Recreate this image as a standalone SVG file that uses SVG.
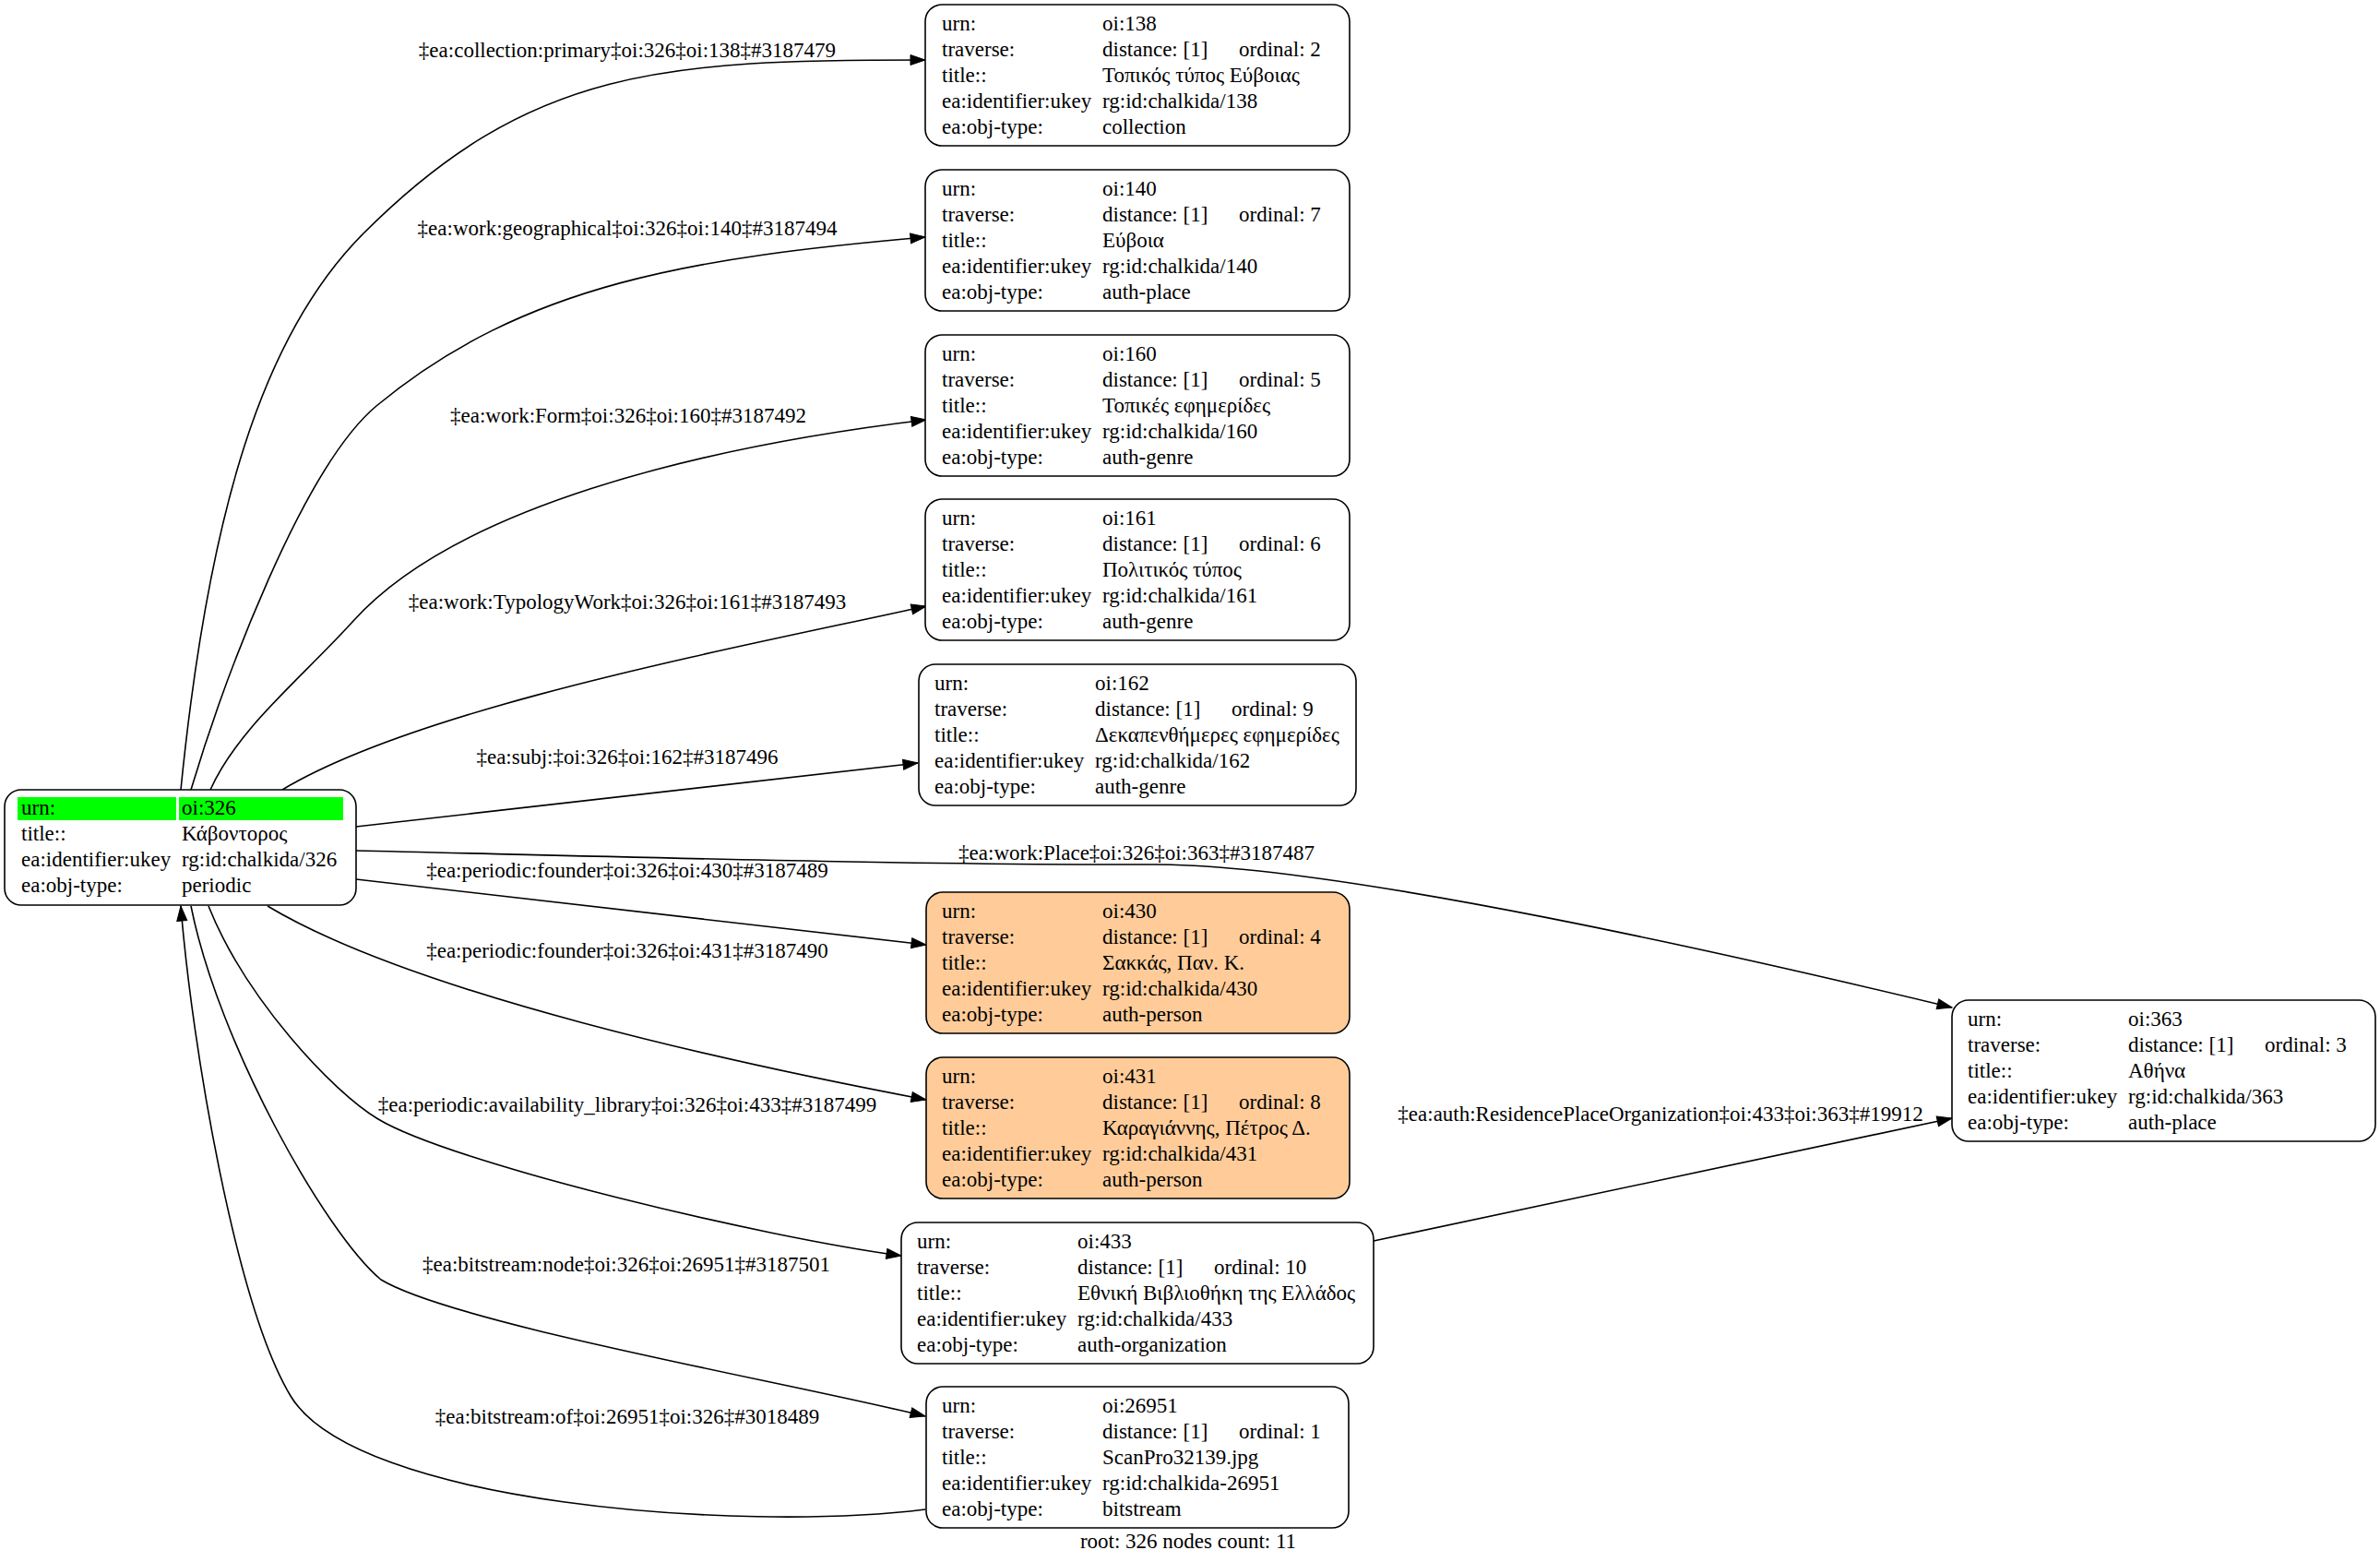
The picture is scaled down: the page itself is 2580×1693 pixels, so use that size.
<svg xmlns="http://www.w3.org/2000/svg" width="2580" height="1693" viewBox="0 0 2580 1693">
<style>
text { font-family: "Liberation Serif", "Times New Roman", "DejaVu Serif", serif; font-size: 23px; fill: #000; }
.lb { text-anchor: middle; }
.nd { fill: #fff; stroke: #000; stroke-width: 1.6; }
.pe { fill: #ffcc99; }
.e { fill: none; stroke: #000; stroke-width: 1.6; marker-end: url(#arr); }
.hl { fill: #00ff00; }
</style>
<defs>
<marker id="arr" markerUnits="userSpaceOnUse" markerWidth="20" markerHeight="14" refX="16" refY="6" orient="auto" overflow="visible">
<path d="M0,0.5 L16,6 L0,11.5 z" fill="#000" stroke="#000" stroke-width="1"/>
</marker>
</defs>
<rect width="2580" height="1693" fill="#fff"/>

<g id="edges">
<path class="e" d="M196,856 C226,556 284,363 394,253 C574,73 720,65 1003,65"/>
<path class="e" d="M207,856 C243,736 328,507 408,440 C568,307 753,279 1003,257"/>
<path class="e" d="M228,856 C258,789 328,734 383,673 C493,551 754,485 1004,455"/>
<path class="e" d="M306,856 C456,766 800,702 1004,657"/>
<path class="e" d="M386,896 L995,827"/>
<path class="e" d="M386,922 C650,928 1000,938 1250,937 C1450,936 1900,1040 2116,1092"/>
<path class="e" d="M386,953 L1004,1024"/>
<path class="e" d="M290,982 C450,1078 804,1154 1004,1192"/>
<path class="e" d="M226,982 C266,1082 360,1183 410,1213 C490,1261 827,1341 977,1361"/>
<path class="e" d="M1489,1345 L2116,1212"/>
<path class="e" d="M207,982 C237,1132 353,1337 413,1387 C493,1435 853,1498 1003,1535"/>
<path class="e" d="M1003,1636 C803,1661 385,1630 315,1513 C255,1413 208,1132 196,982"/>
<text class="lb" x="680" y="62">‡ea:collection:primary‡oi:326‡oi:138‡#3187479</text>
<text class="lb" x="680" y="255">‡ea:work:geographical‡oi:326‡oi:140‡#3187494</text>
<text class="lb" x="681" y="458">‡ea:work:Form‡oi:326‡oi:160‡#3187492</text>
<text class="lb" x="680" y="660">‡ea:work:TypologyWork‡oi:326‡oi:161‡#3187493</text>
<text class="lb" x="680" y="828">‡ea:subj:‡oi:326‡oi:162‡#3187496</text>
<text class="lb" x="1232" y="932">‡ea:work:Place‡oi:326‡oi:363‡#3187487</text>
<text class="lb" x="680" y="951">‡ea:periodic:founder‡oi:326‡oi:430‡#3187489</text>
<text class="lb" x="680" y="1038">‡ea:periodic:founder‡oi:326‡oi:431‡#3187490</text>
<text class="lb" x="680" y="1205">‡ea:periodic:availability_library‡oi:326‡oi:433‡#3187499</text>
<text class="lb" x="1800" y="1215">‡ea:auth:ResidencePlaceOrganization‡oi:433‡oi:363‡#19912</text>
<text class="lb" x="679" y="1378">‡ea:bitstream:node‡oi:326‡oi:26951‡#3187501</text>
<text class="lb" x="680" y="1543">‡ea:bitstream:of‡oi:26951‡oi:326‡#3018489</text>
</g>

<g id="n326">
<rect class="nd" x="5" y="856" width="381" height="125" rx="18"/>
<rect class="hl" x="19" y="864" width="172" height="25"/>
<rect class="hl" x="194" y="864" width="178" height="25"/>
<g transform="translate(0,2)">
<text x="23" y="881">urn:</text><text x="197" y="881">oi:326</text>
<text x="23" y="909">title::</text><text x="197" y="909">Κάβοντορος</text>
<text x="23" y="937">ea:identifier:ukey</text><text x="197" y="937">rg:id:chalkida/326</text>
<text x="23" y="965">ea:obj-type:</text><text x="197" y="965">periodic</text>
</g>
</g>

<g id="n138">
<rect class="nd" x="1003" y="5" width="460" height="153" rx="18"/>
<g transform="translate(0,2)">
<text x="1021" y="31">urn:</text><text x="1195" y="31">oi:138</text>
<text x="1021" y="59">traverse:</text><text x="1195" y="59">distance: [1]</text><text x="1343" y="59">ordinal: 2</text>
<text x="1021" y="87">title::</text><text x="1195" y="87">Τοπικός τύπος Εύβοιας</text>
<text x="1021" y="115">ea:identifier:ukey</text><text x="1195" y="115">rg:id:chalkida/138</text>
<text x="1021" y="143">ea:obj-type:</text><text x="1195" y="143">collection</text>
</g>
</g>

<g id="n140">
<rect class="nd" x="1003" y="184" width="460" height="153" rx="18"/>
<g transform="translate(0,2)">
<text x="1021" y="210">urn:</text><text x="1195" y="210">oi:140</text>
<text x="1021" y="238">traverse:</text><text x="1195" y="238">distance: [1]</text><text x="1343" y="238">ordinal: 7</text>
<text x="1021" y="266">title::</text><text x="1195" y="266">Εύβοια</text>
<text x="1021" y="294">ea:identifier:ukey</text><text x="1195" y="294">rg:id:chalkida/140</text>
<text x="1021" y="322">ea:obj-type:</text><text x="1195" y="322">auth-place</text>
</g>
</g>

<g id="n160">
<rect class="nd" x="1003" y="363" width="460" height="153" rx="18"/>
<g transform="translate(0,2)">
<text x="1021" y="389">urn:</text><text x="1195" y="389">oi:160</text>
<text x="1021" y="417">traverse:</text><text x="1195" y="417">distance: [1]</text><text x="1343" y="417">ordinal: 5</text>
<text x="1021" y="445">title::</text><text x="1195" y="445">Τοπικές εφημερίδες</text>
<text x="1021" y="473">ea:identifier:ukey</text><text x="1195" y="473">rg:id:chalkida/160</text>
<text x="1021" y="501">ea:obj-type:</text><text x="1195" y="501">auth-genre</text>
</g>
</g>

<g id="n161">
<rect class="nd" x="1003" y="541" width="460" height="153" rx="18"/>
<g transform="translate(0,2)">
<text x="1021" y="567">urn:</text><text x="1195" y="567">oi:161</text>
<text x="1021" y="595">traverse:</text><text x="1195" y="595">distance: [1]</text><text x="1343" y="595">ordinal: 6</text>
<text x="1021" y="623">title::</text><text x="1195" y="623">Πολιτικός τύπος</text>
<text x="1021" y="651">ea:identifier:ukey</text><text x="1195" y="651">rg:id:chalkida/161</text>
<text x="1021" y="679">ea:obj-type:</text><text x="1195" y="679">auth-genre</text>
</g>
</g>

<g id="n162">
<rect class="nd" x="996" y="720" width="474" height="153" rx="18"/>
<g transform="translate(0,2)">
<text x="1013" y="746">urn:</text><text x="1187" y="746">oi:162</text>
<text x="1013" y="774">traverse:</text><text x="1187" y="774">distance: [1]</text><text x="1335" y="774">ordinal: 9</text>
<text x="1013" y="802">title::</text><text x="1187" y="802">Δεκαπενθήμερες εφημερίδες</text>
<text x="1013" y="830">ea:identifier:ukey</text><text x="1187" y="830">rg:id:chalkida/162</text>
<text x="1013" y="858">ea:obj-type:</text><text x="1187" y="858">auth-genre</text>
</g>
</g>

<g id="n430">
<rect class="nd pe" x="1004" y="967" width="459" height="153" rx="18"/>
<g transform="translate(0,2)">
<text x="1021" y="993">urn:</text><text x="1195" y="993">oi:430</text>
<text x="1021" y="1021">traverse:</text><text x="1195" y="1021">distance: [1]</text><text x="1343" y="1021">ordinal: 4</text>
<text x="1021" y="1049">title::</text><text x="1195" y="1049">Σακκάς, Παν. Κ.</text>
<text x="1021" y="1077">ea:identifier:ukey</text><text x="1195" y="1077">rg:id:chalkida/430</text>
<text x="1021" y="1105">ea:obj-type:</text><text x="1195" y="1105">auth-person</text>
</g>
</g>

<g id="n431">
<rect class="nd pe" x="1004" y="1146" width="459" height="153" rx="18"/>
<g transform="translate(0,2)">
<text x="1021" y="1172">urn:</text><text x="1195" y="1172">oi:431</text>
<text x="1021" y="1200">traverse:</text><text x="1195" y="1200">distance: [1]</text><text x="1343" y="1200">ordinal: 8</text>
<text x="1021" y="1228">title::</text><text x="1195" y="1228">Καραγιάννης, Πέτρος Δ.</text>
<text x="1021" y="1256">ea:identifier:ukey</text><text x="1195" y="1256">rg:id:chalkida/431</text>
<text x="1021" y="1284">ea:obj-type:</text><text x="1195" y="1284">auth-person</text>
</g>
</g>

<g id="n433">
<rect class="nd" x="977" y="1325" width="512" height="153" rx="18"/>
<g transform="translate(0,2)">
<text x="994" y="1351">urn:</text><text x="1168" y="1351">oi:433</text>
<text x="994" y="1379">traverse:</text><text x="1168" y="1379">distance: [1]</text><text x="1316" y="1379">ordinal: 10</text>
<text x="994" y="1407">title::</text><text x="1168" y="1407">Εθνική Βιβλιοθήκη της Ελλάδος</text>
<text x="994" y="1435">ea:identifier:ukey</text><text x="1168" y="1435">rg:id:chalkida/433</text>
<text x="994" y="1463">ea:obj-type:</text><text x="1168" y="1463">auth-organization</text>
</g>
</g>

<g id="n26951">
<rect class="nd" x="1004" y="1503" width="458" height="153" rx="18"/>
<g transform="translate(0,2)">
<text x="1021" y="1529">urn:</text><text x="1195" y="1529">oi:26951</text>
<text x="1021" y="1557">traverse:</text><text x="1195" y="1557">distance: [1]</text><text x="1343" y="1557">ordinal: 1</text>
<text x="1021" y="1585">title::</text><text x="1195" y="1585">ScanPro32139.jpg</text>
<text x="1021" y="1613">ea:identifier:ukey</text><text x="1195" y="1613">rg:id:chalkida-26951</text>
<text x="1021" y="1641">ea:obj-type:</text><text x="1195" y="1641">bitstream</text>
</g>
</g>

<g id="n363">
<rect class="nd" x="2116" y="1084" width="459" height="153" rx="18"/>
<g transform="translate(0,2)">
<text x="2133" y="1110">urn:</text><text x="2307" y="1110">oi:363</text>
<text x="2133" y="1138">traverse:</text><text x="2307" y="1138">distance: [1]</text><text x="2455" y="1138">ordinal: 3</text>
<text x="2133" y="1166">title::</text><text x="2307" y="1166">Αθήνα</text>
<text x="2133" y="1194">ea:identifier:ukey</text><text x="2307" y="1194">rg:id:chalkida/363</text>
<text x="2133" y="1222">ea:obj-type:</text><text x="2307" y="1222">auth-place</text>
</g>
</g>

<text class="lb" x="1288" y="1678">root: 326 nodes count: 11</text>
</svg>
